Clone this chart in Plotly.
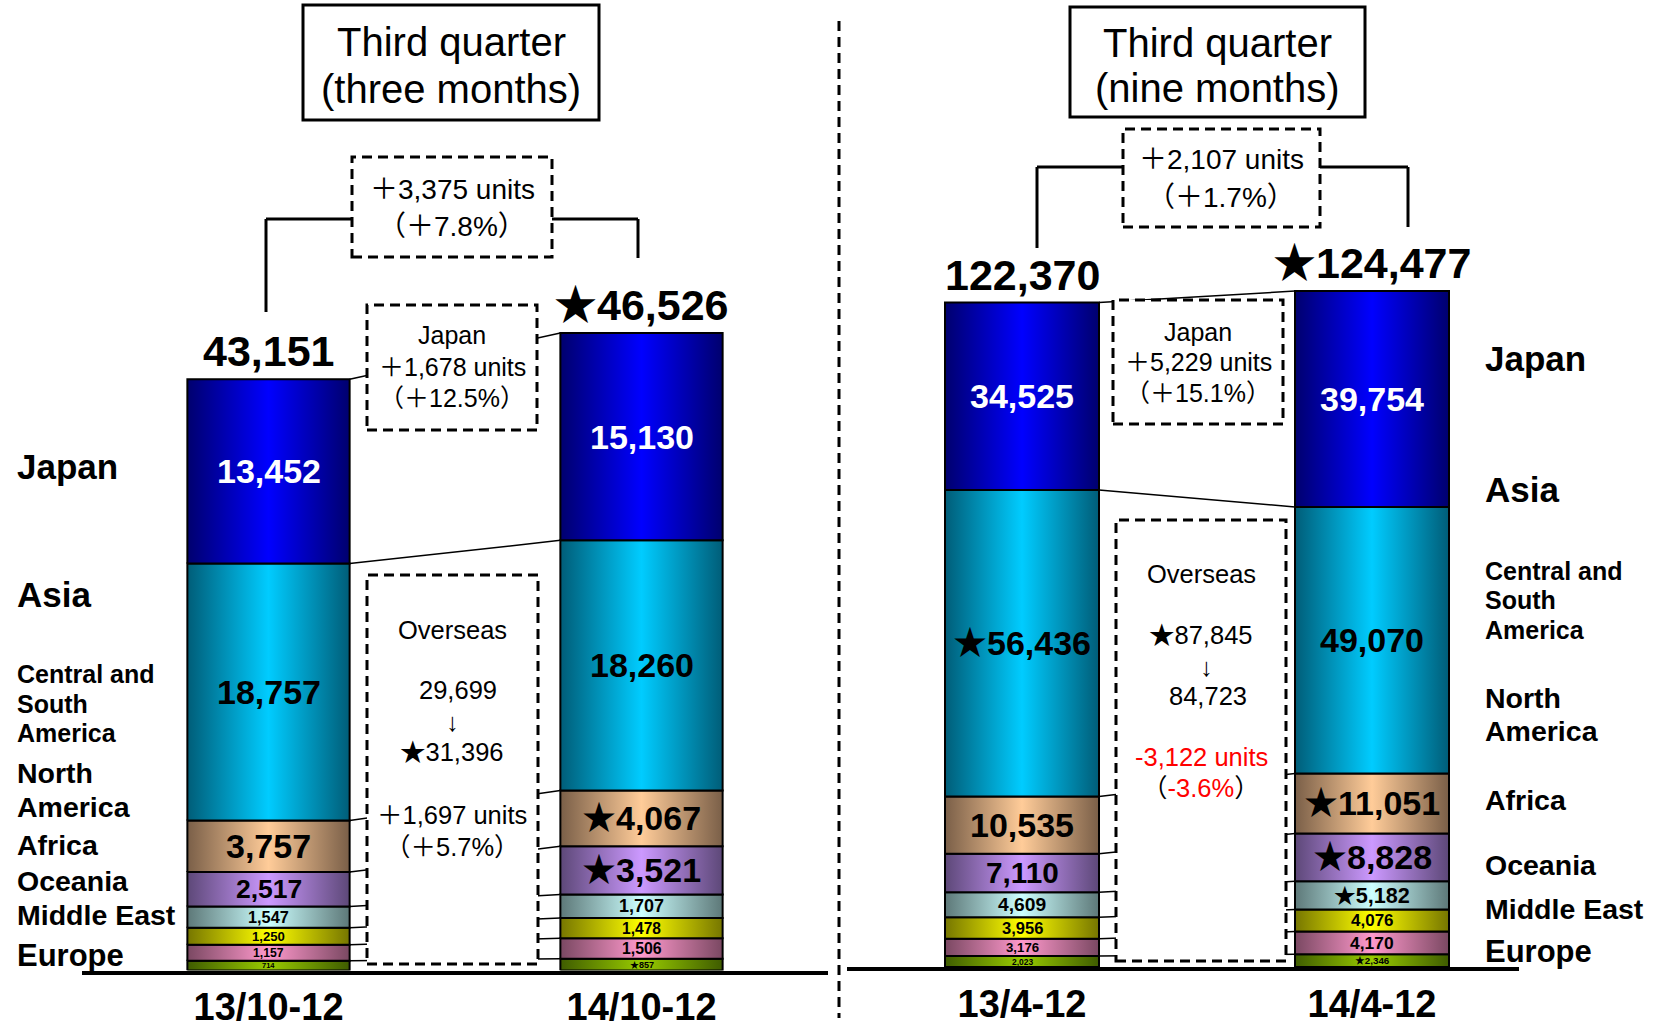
import plotly.graph_objects as go

W, H = 1654, 1027
FONT = "Arial, 'Liberation Sans', 'Noto Sans CJK JP', sans-serif"

# ---- data -------------------------------------------------------------
regions = ["Japan", "Asia", "Central and South America", "North America",
           "Africa", "Oceania", "Middle East", "Europe"]

periods_q3 = ["13/10-12", "14/10-12"]
periods_ytd = ["13/4-12", "14/4-12"]

# units, in the same order as `regions` (top of the stack first)
q3_2013 = [13452, 18757, 3757, 2517, 1547, 1250, 1157, 714]
q3_2014 = [15130, 18260, 4067, 3521, 1707, 1478, 1506, 857]
ytd_2013 = [34525, 56436, 10535, 7110, 4609, 3956, 3176, 2023]
ytd_2014 = [39754, 49070, 11051, 8828, 5182, 4076, 4170, 2346]

# record-high markers (★)
star_q3_2013 = [False, False, False, False, False, False, False, False]
star_q3_2014 = [False, False, True, True, False, False, False, True]
star_ytd_2013 = [False, True, False, False, False, False, False, False]
star_ytd_2014 = [False, False, True, True, True, False, False, True]
star_total_q3 = [False, True]
star_total_ytd = [False, True]

# ---- styling ----------------------------------------------------------
edge_colors = ["#00006e", "#005d78", "#7a5f48", "#5d4878",
               "#5d7878", "#767600", "#7a4862", "#3f5c00"]
mid_colors = ["#0000ff", "#00ccff", "#ffcc99", "#cc99ff",
              "#ccffff", "#ffff00", "#ff99cc", "#99cc00"]


def px(x):
    return x / W


def py(y):
    return 1 - y / H


def fmt_pct(a, b):
    return f"{(b - a) / a * 100:+.1f}%".replace("+", "＋")


fig = go.Figure()
shapes = []
annotations = []

panels = [
    dict(xref="x", yref="y", values=[q3_2013, q3_2014],
         stars=[star_q3_2013, star_q3_2014], total_star=star_total_q3,
         periods=periods_q3, x_px=(82, 828), x_range=(-0.5, 1.5),
         base_px=970.5, px_per_unit=0.0137, bar_w=0.435),
    dict(xref="x2", yref="y2", values=[ytd_2013, ytd_2014],
         stars=[star_ytd_2013, star_ytd_2014], total_star=star_total_ytd,
         periods=periods_ytd, x_px=(847, 1519), x_range=(-0.5, 1.42),
         base_px=967, px_per_unit=0.00543, bar_w=0.44),
]

for p in panels:
    tops = []
    for bi, (vals, stars) in enumerate(zip(p["values"], p["stars"])):
        xc = bi
        x0, x1 = xc - p["bar_w"] / 2, xc + p["bar_w"] / 2
        base = 0
        seg_tops = [0] * len(regions)
        for i in reversed(range(len(regions))):
            v = vals[i]
            top = base + v
            seg_tops[i] = top
            fig.add_trace(go.Scatter(
                x=[x0, x1, x1, x0, x0], y=[base, base, top, top, base],
                xaxis=p["xref"], yaxis=p["yref"], mode="lines", fill="toself",
                fillcolor=mid_colors[i],
                fillgradient=dict(type="horizontal", colorscale=[
                    [0, edge_colors[i]], [0.5, mid_colors[i]], [1, edge_colors[i]]]),
                line=dict(color="black", width=2),
                hoverinfo="skip", showlegend=False))
            # value label shrinks so it stays inside its own segment
            h_px = v * p["px_per_unit"]
            fs = min(34, h_px / 1.3)
            label = ("★" if stars[i] else "") + f"{v:,}"
            annotations.append(dict(
                x=xc, y=base + v / 2, xref=p["xref"], yref=p["yref"],
                text=f"<b>{label}</b>", showarrow=False,
                font=dict(family=FONT, size=fs,
                          color="white" if i == 0 else "black")))
            base = top
        tops.append(seg_tops)
        total = sum(vals)
        annotations.append(dict(
            x=xc, y=total, xref=p["xref"], yref=p["yref"],
            text="<b>" + ("★" if p["total_star"][bi] else "") + f"{total:,}</b>",
            showarrow=False, yanchor="bottom", yshift=2,
            font=dict(family=FONT, size=43, color="black")))
    # thin lines joining matching segment boundaries of the two bars
    half = p["bar_w"] / 2
    for i in range(len(regions)):
        shapes.append(dict(type="line", xref=p["xref"], yref=p["yref"],
                           x0=half, y0=tops[0][i], x1=1 - half, y1=tops[1][i],
                           line=dict(color="black", width=1.5), layer="above"))


def box(x0, y0, x1, y1, dashed=True, width=3):
    shapes.append(dict(type="rect", xref="paper", yref="paper",
                       x0=px(x0), x1=px(x1), y0=py(y1), y1=py(y0),
                       fillcolor="white", layer="above",
                       line=dict(color="black", width=width,
                                 dash="10px,6px" if dashed else "solid")))


def seg(pts, width=3, dash="solid"):
    for (xa, ya), (xb, yb) in zip(pts[:-1], pts[1:]):
        shapes.append(dict(type="line", xref="paper", yref="paper",
                           x0=px(xa), y0=py(ya), x1=px(xb), y1=py(yb),
                           line=dict(color="black", width=width, dash=dash),
                           layer="above"))


def text(x, y, s, size=25, color="black", bold=False, anchor="center"):
    annotations.append(dict(x=px(x), y=py(y), xref="paper", yref="paper",
                            text=f"<b>{s}</b>" if bold else s, showarrow=False,
                            xanchor=anchor, yanchor="middle",
                            font=dict(family=FONT, size=size, color=color)))


# brackets over each pair of totals
seg([(266, 312), (266, 219), (352, 219)])
seg([(552, 219), (638, 219), (638, 258)])
seg([(1037, 248), (1037, 167), (1123, 167)])
seg([(1320, 167), (1408, 167), (1408, 227)])

# dashed divider between the two periods
seg([(839, 21), (839, 1018)], width=3, dash="10px,6px")

# headings
box(303, 5, 599, 120, dashed=False)
text(451, 42, "Third quarter", size=40)
text(451, 89, "(three months)", size=40)
box(1070, 7, 1365, 117, dashed=False)
text(1217, 43, "Third quarter", size=40)
text(1217, 88, "(nine months)", size=40)

# change of totals
t13, t14 = sum(q3_2013), sum(q3_2014)
box(352, 157, 552, 257)
text(452, 190, f"＋{t14 - t13:,} units", size=28)
text(452, 227, f"（{fmt_pct(t13, t14)}）", size=28)

y13, y14 = sum(ytd_2013), sum(ytd_2014)
box(1123, 129, 1320, 227)
text(1221, 160, f"＋{y14 - y13:,} units", size=28)
text(1221, 198, f"（{fmt_pct(y13, y14)}）", size=28)

# Japan change
box(367, 305, 537, 430)
text(452, 335, "Japan", size=25)
text(452, 367, f"＋{q3_2014[0] - q3_2013[0]:,} units", size=25)
text(452, 398, f"（{fmt_pct(q3_2013[0], q3_2014[0])}）", size=25)

box(1113, 300, 1283, 424)
text(1198, 332, "Japan", size=25)
text(1198, 362, f"＋{ytd_2014[0] - ytd_2013[0]:,} units", size=25)
text(1198, 393, f"（{fmt_pct(ytd_2013[0], ytd_2014[0])}）", size=25)

# overseas change
o13, o14 = sum(q3_2013[1:]), sum(q3_2014[1:])
box(367, 575, 538, 964)
text(452, 630, "Overseas", size=25.5)
text(458, 690, f"{o13:,}", size=25.5)
text(452, 722, "↓", size=25.5)
text(452, 752, f"★{o14:,}", size=25.5)
text(452, 815, f"＋{o14 - o13:,} units", size=25.5)
text(452, 847, f"（{fmt_pct(o13, o14)}）", size=25.5)

p13, p14 = sum(ytd_2013[1:]), sum(ytd_2014[1:])
box(1116, 520, 1286, 961)
text(1201, 574, "Overseas", size=25.5)
text(1201, 635, f"★{p13:,}", size=25.5)
text(1206, 667, "↓", size=25.5)
text(1208, 696, f"{p14:,}", size=25.5)
text(1201, 757, f"{p14 - p13:,} units", size=25.5, color="#ff0000")
text(1201, 788, f"（<span style='color:#ff0000'>{(p14 - p13) / p13 * 100:.1f}%</span>）", size=25.5)

# region names beside the stacks
left_names = [("Japan", 466, 35), ("Asia", 594, 35),
              ("Central and", 674, 25), ("South", 704, 25), ("America", 733, 25),
              ("North", 773, 28.5), ("America", 807, 28.5), ("Africa", 845, 28.5),
              ("Oceania", 881, 28.5), ("Middle East", 915, 28.5), ("Europe", 955, 31)]
for s, y, size in left_names:
    text(15, y, s, size=size, bold=True, anchor="left")

right_names = [("Japan", 359, 35), ("Asia", 490, 35),
               ("Central and", 571, 25), ("South", 600, 25), ("America", 630, 25),
               ("North", 698, 28.5), ("America", 731, 28.5), ("Africa", 800, 28.5),
               ("Oceania", 865, 28.5), ("Middle East", 909, 28.5), ("Europe", 951, 31)]
for s, y, size in right_names:
    text(1483, y, s, size=size, bold=True, anchor="left")

axis_common = dict(showline=True, linewidth=4, linecolor="black", ticks="",
                   showgrid=False, zeroline=False, fixedrange=True, automargin=False,
                   tickfont=dict(family=FONT, size=38, color="black", weight="bold"))

p0, p1 = panels
fig.update_layout(
    width=W, height=H, autosize=False,
    margin=dict(l=0, r=0, t=0, b=0),
    paper_bgcolor="white", plot_bgcolor="rgba(0,0,0,0)",
    showlegend=False,
    xaxis=dict(domain=[px(p0["x_px"][0]), px(p0["x_px"][1])], range=list(p0["x_range"]),
               tickvals=[0, 1], ticktext=p0["periods"], anchor="y", **axis_common),
    yaxis=dict(domain=[1 - p0["base_px"] / H, 1],
               range=[0, p0["base_px"] / p0["px_per_unit"]], visible=False,
               anchor="x", fixedrange=True, automargin=False),
    xaxis2=dict(domain=[px(p1["x_px"][0]), px(p1["x_px"][1])], range=list(p1["x_range"]),
                tickvals=[0, 1], ticktext=p1["periods"], anchor="y2", **axis_common),
    yaxis2=dict(domain=[1 - p1["base_px"] / H, 1],
                range=[0, p1["base_px"] / p1["px_per_unit"]], visible=False,
                anchor="x2", fixedrange=True, automargin=False),
    shapes=shapes,
    annotations=annotations,
)

fig.write_html("out.html", config={"displayModeBar": False})
